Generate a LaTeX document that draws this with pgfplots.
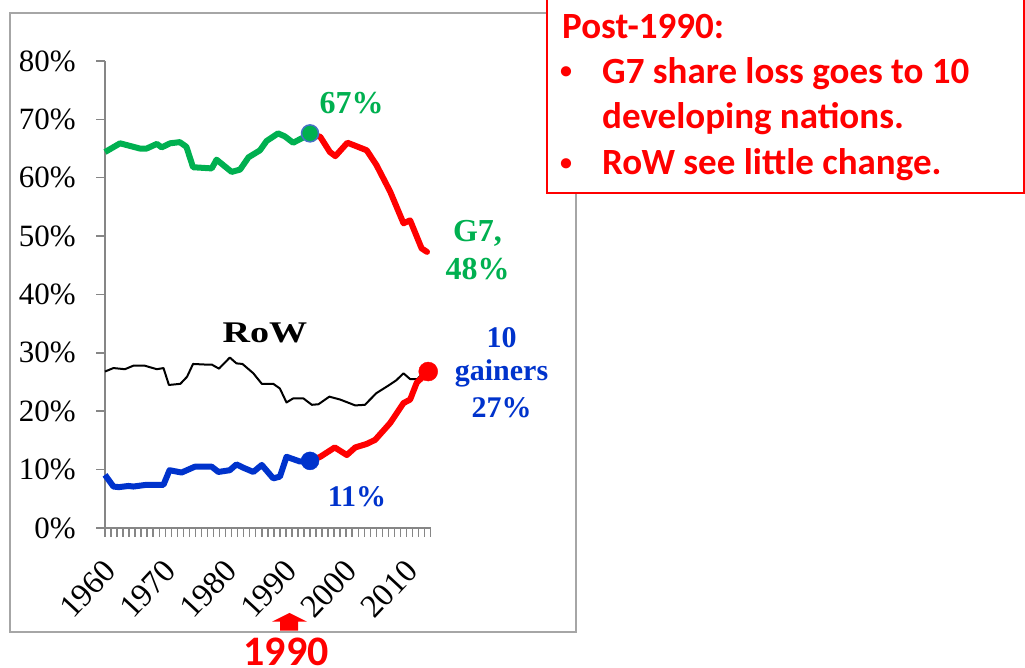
\documentclass[border=0pt]{standalone}
\usepackage{pgfplots}
\pgfplotsset{compat=1.18}
\usepackage{fontspec}
\setmainfont{Liberation Serif}
\newfontfamily\calibri{Carlito}
\definecolor{xgreen}{RGB}{0,176,80}
\definecolor{xblue}{RGB}{0,51,204}
\definecolor{xred}{RGB}{255,0,0}
\definecolor{axgray}{RGB}{134,134,134}
\definecolor{framegray}{RGB}{166,166,166}
\definecolor{steel}{RGB}{68,114,196}
\begin{document}
\begin{tikzpicture}[x=1pt,y=1pt]
\path[use as bounding box] (0,0) rectangle (1025,668);
\draw[framegray, line width=1.5pt] (10,36) rectangle (576,655);
\begin{axis}[
  at={(105pt,140pt)}, anchor=south west,
  scale only axis, width=326pt, height=467pt,
  xmin=1960, xmax=2014.06, ymin=0, ymax=80,
  axis x line*=bottom, axis y line*=left,
  axis line style={axgray, line width=1.5pt},
  every tick/.style={axgray, line width=1.5pt},
  major tick length=9pt, minor tick length=9pt,
  tick align=outside,
  xtick={1960,1970,...,2010},
  xticklabels={1960,1970,1980,1990,2000,2010},
  minor xtick={1961,1962,...,2014},
  ytick={0,10,...,80},
  yticklabel={\pgfmathprintnumber{\tick}\%},
  /pgf/number format/assume math mode=true,
  tick label style={font=\fontsize{31}{36}\selectfont, black},
  x tick label style={font=\fontsize{32.5}{36}\selectfont, black, xshift=5pt, yshift=-28pt, rotate=47, anchor=east, inner sep=0pt},
  y tick label style={font=\fontsize{31}{36}\selectfont, black, anchor=east, inner sep=0pt, xshift=-20pt},
  clip=false,
]
% RoW
\addplot[black, line width=2pt, line join=round] coordinates {
(1960.0,26.8) (1961.4,27.4) (1963.3,27.2) (1964.7,27.8) (1966.6,27.8) (1968.6,27.2)
(1969.7,27.4) (1970.6,24.5) (1972.5,24.7) (1973.6,25.9) (1974.6,28.1) (1976.6,28.0)
(1977.7,28.0) (1978.9,27.3) (1980.7,29.2) (1981.8,28.2) (1982.8,28.1) (1984.6,26.5)
(1986.0,24.7) (1987.9,24.7) (1989.0,23.9) (1990.1,21.5) (1991.2,22.2) (1992.9,22.2)
(1994.3,21.1) (1995.4,21.2) (1997.2,22.5) (1999.0,22.0) (2001.5,21.0) (2003.1,21.1)
(2005.0,23.1) (2007.0,24.4) (2008.3,25.3) (2009.5,26.5) (2010.6,25.5) (2011.8,25.5)
(2012.5,26.3) (2013.4,25.9)};
% G7 before
\addplot[xgreen, line width=6pt, line join=round] coordinates {
(1960.0,64.4) (1962.5,65.9) (1965.8,65.0) (1966.9,65.0) (1968.6,65.8) (1969.4,65.2)
(1970.8,65.9) (1972.4,66.1) (1973.5,65.3) (1974.6,61.8) (1977.7,61.6) (1978.5,63.1)
(1981.0,61.0) (1982.4,61.4) (1983.8,63.5) (1985.7,64.7) (1986.8,66.3) (1988.7,67.6)
(1989.8,67.1) (1991.2,66.0) (1992.9,66.9) (1994.0,67.6)};
% gainers before
\addplot[xblue, line width=6pt, line join=round] coordinates {
(1960.0,9.1) (1961.4,7.1) (1962.3,7.0) (1963.9,7.2) (1964.7,7.1) (1966.9,7.4)
(1968.6,7.4) (1969.7,7.4) (1970.7,9.9) (1972.7,9.5) (1974.9,10.5) (1977.7,10.5)
(1978.8,9.6) (1980.7,9.9) (1981.8,10.9) (1983.0,10.3) (1984.6,9.6) (1986.0,10.8)
(1987.9,8.5) (1989.0,8.8) (1990.1,12.2) (1992.3,11.4) (1994.0,11.5)};
% dots at start
\addplot[only marks, mark=*, mark size=8.5pt, mark options={fill=xgreen, draw=steel, line width=1.5pt}] coordinates {(1994.0,67.6)};
\addplot[only marks, mark=*, mark size=9pt, mark options={fill=xblue, draw=xblue}] coordinates {(1994.0,11.5)};
% G7 after
\addplot[xred, line width=6pt, line join=round, line cap=round] coordinates {
(1994.0,67.6) (1995.7,67.0) (1997.3,64.4) (1998.2,63.7) (2000.2,66.0) (2001.7,65.4)
(2003.4,64.7) (2005.0,62.2) (2007.3,57.6) (2009.5,52.2) (2010.6,52.7) (2012.5,47.9)
(2013.4,47.3)};
% gainers after
\addplot[xred, line width=6pt, line join=round, line cap=round] coordinates {
(1994.0,11.5) (1995.7,12.2) (1998.1,13.8) (2000.1,12.5) (2001.5,13.8) (2003.4,14.4)
(2004.8,15.1) (2007.3,18.0) (2009.5,21.4) (2010.6,22.0) (2011.7,24.9) (2012.8,26.0)
(2013.6,26.8)};
\addplot[only marks, mark=*, mark size=9.5pt, mark options={fill=xred, draw=xred}] coordinates {(2013.6,26.8)};
\end{axis}
% annotations
\begin{scope}[every node/.style={inner sep=0pt, font=\fontsize{32}{36}\selectfont\bfseries}]
\node[xgreen, anchor=base] at (351.5,554.7) {67\%};
\node[xgreen, anchor=base] at (477.5,426) {G7,};
\node[xgreen, anchor=base] at (477.5,388) {48\%};
\end{scope}
\begin{scope}[every node/.style={inner sep=0pt, font=\fontsize{30}{34}\selectfont\bfseries}]
\node[xblue, anchor=base] at (501.5,320) {10};
\node[xblue, anchor=base] at (501.5,287) {gainers};
\node[xblue, anchor=base] at (501.5,250) {27\%};
\node[xblue, anchor=base] at (357,161) {11\%};
\node[black, anchor=base] at (265,325) {\scalebox{1.27}[1]{RoW}};
\end{scope}
% arrow and 1990
\fill[xred] (280,37.3)--(280,46.3)--(272,46.3)--(289.5,55)--(307,46.3)--(298,46.3)--(298,37.3)--cycle;
\node[xred, inner sep=0pt, anchor=base, font=\calibri\fontsize{42}{46}\selectfont\bfseries] at (286,2) {1990};
% text box
\filldraw[fill=white, draw=xred, line width=1.5pt] (547,475) rectangle (1024,672);
\begin{scope}[every node/.style={xred, inner sep=0pt, anchor=base west, font=\calibri\fontsize{37}{42}\selectfont\bfseries}]
\node at (562,629) {Post-1990:};
\node at (602,584) {G7 share loss goes to 10};
\node at (602,539) {developing nations.};
\node at (602,493) {RoW see little change.};
\end{scope}
\node[xred, inner sep=0pt, anchor=center, font=\calibri\fontsize{24}{28}\selectfont\bfseries] at (566,595.3) {•};
\node[xred, inner sep=0pt, anchor=center, font=\calibri\fontsize{24}{28}\selectfont\bfseries] at (566,503) {•};
\end{tikzpicture}
\end{document}
